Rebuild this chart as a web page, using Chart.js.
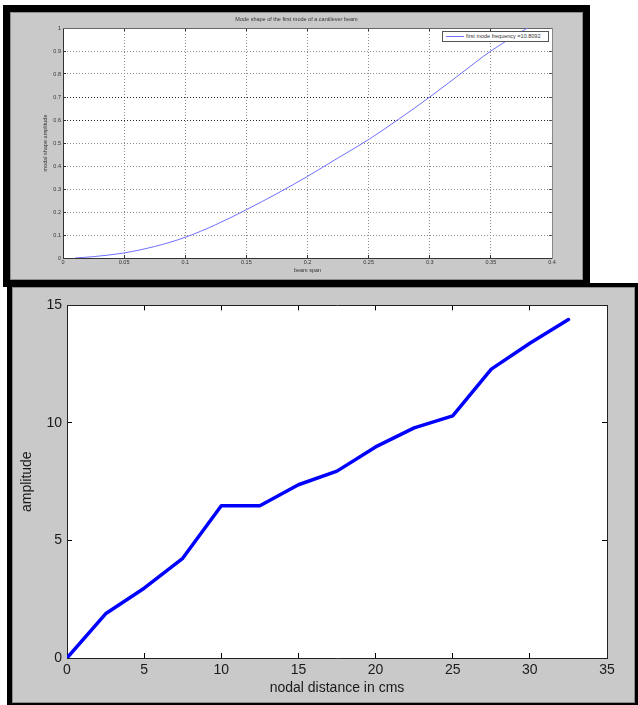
<!DOCTYPE html>
<html><head><meta charset="utf-8">
<script src="https://cdn.jsdelivr.net/npm/chart.js@4/dist/chart.umd.min.js"></script>
<style>
html,body{margin:0;padding:0;background:#fff;width:638px;height:705px;overflow:hidden;font-family:"Liberation Sans",Arial,sans-serif}
.frame{position:absolute;background:#000}
.panel{position:absolute;background:#c9c9c9;box-shadow:inset 0 0 0 1px #8c8c8c}
.wrap{position:absolute}
canvas{display:block}
#legend1{position:absolute;left:442px;top:31px;width:105px;height:9px;background:#fff;border:1px solid #555;font-size:5.5px;line-height:9px;color:#333;white-space:nowrap;overflow:hidden}
#legend1 .ln{display:inline-block;vertical-align:middle;width:18px;height:0;border-top:1px solid #7070ff;margin:0 2px 0 3px}
</style></head>
<body>
<!-- top figure -->
<div class="frame" style="left:3px;top:5px;width:587px;height:282px"></div>
<div class="panel" style="left:10px;top:12px;width:573px;height:268px"></div>
<div class="wrap" style="left:10px;top:12px"><canvas id="c1" width="573" height="268"></canvas></div>
<div id="legend1"></div>
<!-- bottom figure -->
<div class="frame" style="left:7px;top:283px;width:631px;height:422px"></div>
<div class="panel" style="left:12px;top:287px;width:623px;height:416px"></div>
<div class="wrap" style="left:12px;top:287px"><canvas id="c2" width="623" height="416"></canvas></div>
<script>
// ---- top chart data ----
const beamSpan = [0.01, 0.025, 0.05, 0.075, 0.1, 0.125, 0.15, 0.175, 0.2, 0.225, 0.25, 0.275, 0.3, 0.325, 0.35, 0.38];
const modeAmplitude = [0, 0.006, 0.022, 0.05, 0.09, 0.145, 0.21, 0.28, 0.355, 0.435, 0.515, 0.605, 0.70, 0.80, 0.90, 1.0];
const spanTicks = [0, 0.05, 0.1, 0.15, 0.2, 0.25, 0.3, 0.35, 0.4];
const ampTicks = [0, 0.1, 0.2, 0.3, 0.4, 0.5, 0.6, 0.7, 0.8, 0.9, 1];
const topTitle = 'Mode shape of the first mode of a cantilever beam';
const topLegend = 'first mode frequency =10.8092';

// ---- bottom chart data ----
const nodalDistance = [0, 2.5, 5, 7.5, 10, 12.5, 15, 17.5, 20, 22.5, 25, 27.5, 30, 32.5];
const amplitude = [0, 1.88, 2.97, 4.24, 6.48, 6.48, 7.37, 7.95, 8.98, 9.79, 10.3, 12.29, 13.39, 14.4];
const distTicks = [0, 5, 10, 15, 20, 25, 30, 35];
const amplitudeTicks = [0, 5, 10, 15];

const FONT = '"Liberation Sans", Arial, sans-serif';
Chart.defaults.font.family = FONT;
const setTicks = arr => s => { s.ticks = arr.map(v => ({value: v})); };
const fixH = h => s => { s.height = h; };
const fixW = w => s => { s.width = w; };
const fmt = v => String(+Number(v).toFixed(3));

const whiteArea = {
  id: 'whiteArea',
  beforeDraw(chart) {
    const a = chart.chartArea, ctx = chart.ctx;
    ctx.save(); ctx.fillStyle = '#fff';
    ctx.fillRect(a.left, a.top, a.right - a.left, a.bottom - a.top);
    ctx.restore();
  }
};

// ---------- top chart ----------
const small = {size: 5.5, family: FONT, weight: 'normal'};
const gridDash = [1, 2];
const chart1 = new Chart(document.getElementById('c1'), {
  type: 'line',
  plugins: [whiteArea],
  data: {
    datasets: [{
      label: topLegend,
      data: beamSpan.map((x, i) => ({x: x, y: modeAmplitude[i]})),
      borderColor: '#6f6fff',
      borderWidth: 1,
      pointRadius: 0,
      fill: false,
      cubicInterpolationMode: 'monotone'
    }]
  },
  options: {
    responsive: false,
    animation: false,
    layout: {padding: 0},
    plugins: {
      legend: {display: false},
      tooltip: {enabled: false},
      title: {display: true, text: topTitle, color: '#333', font: small, padding: {top: 4.5, bottom: 4.9}}
    },
    scales: {
      x: {
        type: 'linear', position: 'bottom', min: 0, max: 0.4,
        afterBuildTicks: setTicks(spanTicks), afterFit: fixH(22),
        ticks: {font: small, color: '#333', padding: 4, maxRotation: 0, autoSkip: false, callback: fmt},
        grid: {color: '#8c8c8c', tickLength: -3, tickColor: '#333', tickBorderDash: []},
        border: {display: true, color: '#333', width: 1, dash: gridDash},
        title: {display: true, text: 'beam span', color: '#333', font: small, padding: {top: 0, bottom: 6.7}}
      },
      y: {
        type: 'linear', position: 'left', min: 0, max: 1,
        afterBuildTicks: setTicks(ampTicks), afterFit: fixW(53),
        ticks: {font: small, color: '#333', padding: 5, autoSkip: false, callback: fmt},
        grid: {
          color: c => (c.tick && (Math.abs(c.tick.value - 0.6) < 1e-6 || Math.abs(c.tick.value - 0.7) < 1e-6)) ? '#222' : '#8c8c8c',
          tickLength: -3, tickColor: '#333', tickBorderDash: []
        },
        border: {display: true, color: '#333', width: 1, dash: gridDash},
        title: {display: true, text: 'modal shape amplitude', color: '#333', font: small, padding: {top: 31.7, bottom: 0}}
      },
      x2: {
        type: 'linear', position: 'top', min: 0, max: 0.4,
        afterBuildTicks: setTicks(spanTicks), afterFit: fixH(0),
        ticks: {display: false},
        grid: {drawOnChartArea: false, tickLength: -3, tickColor: '#333'},
        border: {display: true, color: '#666', width: 1}
      },
      y2: {
        type: 'linear', position: 'right', min: 0, max: 1,
        afterBuildTicks: setTicks(ampTicks), afterFit: fixW(31),
        ticks: {display: false},
        grid: {drawOnChartArea: false, tickLength: -3, tickColor: '#555'},
        border: {display: true, color: '#888', width: 1}
      }
    }
  }
});
// HTML legend built from the dataset
(function(){
  const lg = document.getElementById('legend1');
  const ds = chart1.data.datasets[0];
  const ln = document.createElement('span'); ln.className = 'ln'; ln.style.borderTopColor = ds.borderColor;
  const tx = document.createElement('span'); tx.textContent = ds.label;
  lg.appendChild(ln); lg.appendChild(tx);
})();

// ---------- bottom chart ----------
const big = {size: 14, family: FONT, weight: 'normal'};
new Chart(document.getElementById('c2'), {
  type: 'line',
  plugins: [whiteArea],
  data: {
    datasets: [{
      label: 'amplitude',
      data: nodalDistance.map((x, i) => ({x: x, y: amplitude[i]})),
      borderColor: '#0000ff',
      borderWidth: 3.5,
      borderJoinStyle: 'round',
      borderCapStyle: 'round',
      pointRadius: 0,
      fill: false,
      tension: 0
    }]
  },
  options: {
    responsive: false,
    animation: false,
    layout: {padding: 0},
    plugins: {legend: {display: false}, tooltip: {enabled: false}},
    scales: {
      x: {
        type: 'linear', position: 'bottom', min: 0, max: 35,
        afterBuildTicks: setTicks(distTicks), afterFit: fixH(45),
        ticks: {font: big, color: '#1a1a1a', padding: 9, maxRotation: 0, autoSkip: false, callback: fmt},
        grid: {drawOnChartArea: false, tickLength: -5, tickColor: '#000'},
        border: {display: true, color: '#222', width: 1},
        title: {display: true, text: 'nodal distance in cms', color: '#1a1a1a', font: big, padding: {top: 0, bottom: 6.6}}
      },
      y: {
        type: 'linear', position: 'left', min: 0, max: 15,
        afterBuildTicks: setTicks(amplitudeTicks), afterFit: fixW(55),
        ticks: {font: big, color: '#1a1a1a', padding: 10, autoSkip: false, callback: fmt},
        grid: {drawOnChartArea: false, tickLength: -5, tickColor: '#000'},
        border: {display: true, color: '#222', width: 1},
        title: {display: true, text: 'amplitude', color: '#1a1a1a', font: big, padding: {top: 7, bottom: 0}}
      },
      x2: {
        type: 'linear', position: 'top', min: 0, max: 35,
        afterBuildTicks: setTicks(distTicks), afterFit: fixH(17),
        ticks: {display: false},
        grid: {drawOnChartArea: false, tickLength: -5, tickColor: '#000'},
        border: {display: true, color: '#222', width: 1}
      },
      y2: {
        type: 'linear', position: 'right', min: 0, max: 15,
        afterBuildTicks: setTicks(amplitudeTicks), afterFit: fixW(28),
        ticks: {display: false},
        grid: {drawOnChartArea: false, tickLength: -5, tickColor: '#000'},
        border: {display: true, color: '#222', width: 1}
      }
    }
  }
});
</script>
</body></html>
